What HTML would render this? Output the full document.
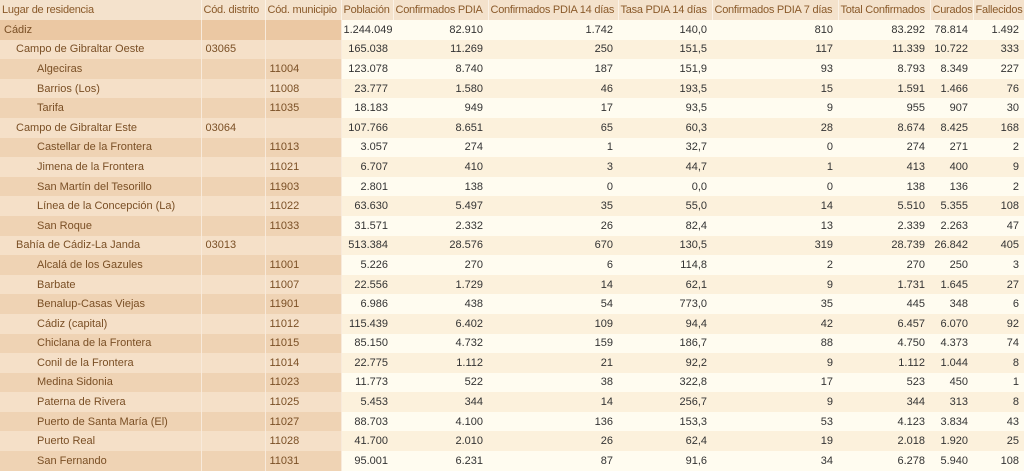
<!DOCTYPE html>
<html><head><meta charset="utf-8"><style>
body{margin:0;width:1024px;height:471px;overflow:hidden;background:#fff;font-family:"Liberation Sans",sans-serif;font-size:11px;}
table{border-collapse:collapse;table-layout:fixed;width:1024px;}
td{height:19.6px;padding:0 5px 0 2px;white-space:nowrap;overflow:hidden;color:#333;text-align:right;box-sizing:border-box;}
tr.h td{background:#f4e2cc;color:#8a5a2a;text-align:left;height:20px;padding:0 1px 0 2px;border-right:1px solid #fbf2e6;letter-spacing:-0.25px;}
td.l{text-align:left;color:#7a4f25;border-right:1px solid #f8eadb;padding-left:4px;}
tr.o td.l{background:#efd3b4;}
tr.e td.l{background:#f5e0c8;}
tr.c td.l{background:#ebc8a3;}
tr.o td{background:#fffcf0;}
tr.e td{background:#fcf1dc;}
tr.c td{background:#fffcf0;}
td.i1{padding-left:16px}td.i2{padding-left:37px}
</style></head><body>
<table>
<colgroup><col style="width:201px"><col style="width:64px"><col style="width:76px"><col style="width:52px"><col style="width:95px"><col style="width:130px"><col style="width:94px"><col style="width:126px"><col style="width:92px"><col style="width:43px"><col style="width:51px"></colgroup>
<tr class="h"><td>Lugar de residencia</td><td>Cód. distrito</td><td>Cód. municipio</td><td>Población</td><td>Confirmados PDIA</td><td>Confirmados PDIA 14 días</td><td>Tasa PDIA 14 días</td><td>Confirmados PDIA 7 días</td><td>Total Confirmados</td><td>Curados</td><td>Fallecidos</td></tr>
<tr class="c"><td class="l">Cádiz</td><td class="l"></td><td class="l"></td><td>1.244.049</td><td>82.910</td><td>1.742</td><td>140,0</td><td>810</td><td>83.292</td><td>78.814</td><td>1.492</td></tr>
<tr class="e"><td class="l i1">Campo de Gibraltar Oeste</td><td class="l">03065</td><td class="l"></td><td>165.038</td><td>11.269</td><td>250</td><td>151,5</td><td>117</td><td>11.339</td><td>10.722</td><td>333</td></tr>
<tr class="o"><td class="l i2">Algeciras</td><td class="l"></td><td class="l">11004</td><td>123.078</td><td>8.740</td><td>187</td><td>151,9</td><td>93</td><td>8.793</td><td>8.349</td><td>227</td></tr>
<tr class="e"><td class="l i2">Barrios (Los)</td><td class="l"></td><td class="l">11008</td><td>23.777</td><td>1.580</td><td>46</td><td>193,5</td><td>15</td><td>1.591</td><td>1.466</td><td>76</td></tr>
<tr class="o"><td class="l i2">Tarifa</td><td class="l"></td><td class="l">11035</td><td>18.183</td><td>949</td><td>17</td><td>93,5</td><td>9</td><td>955</td><td>907</td><td>30</td></tr>
<tr class="e"><td class="l i1">Campo de Gibraltar Este</td><td class="l">03064</td><td class="l"></td><td>107.766</td><td>8.651</td><td>65</td><td>60,3</td><td>28</td><td>8.674</td><td>8.425</td><td>168</td></tr>
<tr class="o"><td class="l i2">Castellar de la Frontera</td><td class="l"></td><td class="l">11013</td><td>3.057</td><td>274</td><td>1</td><td>32,7</td><td>0</td><td>274</td><td>271</td><td>2</td></tr>
<tr class="e"><td class="l i2">Jimena de la Frontera</td><td class="l"></td><td class="l">11021</td><td>6.707</td><td>410</td><td>3</td><td>44,7</td><td>1</td><td>413</td><td>400</td><td>9</td></tr>
<tr class="o"><td class="l i2">San Martín del Tesorillo</td><td class="l"></td><td class="l">11903</td><td>2.801</td><td>138</td><td>0</td><td>0,0</td><td>0</td><td>138</td><td>136</td><td>2</td></tr>
<tr class="e"><td class="l i2">Línea de la Concepción (La)</td><td class="l"></td><td class="l">11022</td><td>63.630</td><td>5.497</td><td>35</td><td>55,0</td><td>14</td><td>5.510</td><td>5.355</td><td>108</td></tr>
<tr class="o"><td class="l i2">San Roque</td><td class="l"></td><td class="l">11033</td><td>31.571</td><td>2.332</td><td>26</td><td>82,4</td><td>13</td><td>2.339</td><td>2.263</td><td>47</td></tr>
<tr class="e"><td class="l i1">Bahía de Cádiz-La Janda</td><td class="l">03013</td><td class="l"></td><td>513.384</td><td>28.576</td><td>670</td><td>130,5</td><td>319</td><td>28.739</td><td>26.842</td><td>405</td></tr>
<tr class="o"><td class="l i2">Alcalá de los Gazules</td><td class="l"></td><td class="l">11001</td><td>5.226</td><td>270</td><td>6</td><td>114,8</td><td>2</td><td>270</td><td>250</td><td>3</td></tr>
<tr class="e"><td class="l i2">Barbate</td><td class="l"></td><td class="l">11007</td><td>22.556</td><td>1.729</td><td>14</td><td>62,1</td><td>9</td><td>1.731</td><td>1.645</td><td>27</td></tr>
<tr class="o"><td class="l i2">Benalup-Casas Viejas</td><td class="l"></td><td class="l">11901</td><td>6.986</td><td>438</td><td>54</td><td>773,0</td><td>35</td><td>445</td><td>348</td><td>6</td></tr>
<tr class="e"><td class="l i2">Cádiz (capital)</td><td class="l"></td><td class="l">11012</td><td>115.439</td><td>6.402</td><td>109</td><td>94,4</td><td>42</td><td>6.457</td><td>6.070</td><td>92</td></tr>
<tr class="o"><td class="l i2">Chiclana de la Frontera</td><td class="l"></td><td class="l">11015</td><td>85.150</td><td>4.732</td><td>159</td><td>186,7</td><td>88</td><td>4.750</td><td>4.373</td><td>74</td></tr>
<tr class="e"><td class="l i2">Conil de la Frontera</td><td class="l"></td><td class="l">11014</td><td>22.775</td><td>1.112</td><td>21</td><td>92,2</td><td>9</td><td>1.112</td><td>1.044</td><td>8</td></tr>
<tr class="o"><td class="l i2">Medina Sidonia</td><td class="l"></td><td class="l">11023</td><td>11.773</td><td>522</td><td>38</td><td>322,8</td><td>17</td><td>523</td><td>450</td><td>1</td></tr>
<tr class="e"><td class="l i2">Paterna de Rivera</td><td class="l"></td><td class="l">11025</td><td>5.453</td><td>344</td><td>14</td><td>256,7</td><td>9</td><td>344</td><td>313</td><td>8</td></tr>
<tr class="o"><td class="l i2">Puerto de Santa María (El)</td><td class="l"></td><td class="l">11027</td><td>88.703</td><td>4.100</td><td>136</td><td>153,3</td><td>53</td><td>4.123</td><td>3.834</td><td>43</td></tr>
<tr class="e"><td class="l i2">Puerto Real</td><td class="l"></td><td class="l">11028</td><td>41.700</td><td>2.010</td><td>26</td><td>62,4</td><td>19</td><td>2.018</td><td>1.920</td><td>25</td></tr>
<tr class="o"><td class="l i2">San Fernando</td><td class="l"></td><td class="l">11031</td><td>95.001</td><td>6.231</td><td>87</td><td>91,6</td><td>34</td><td>6.278</td><td>5.940</td><td>108</td></tr>
</table>
</body></html>
